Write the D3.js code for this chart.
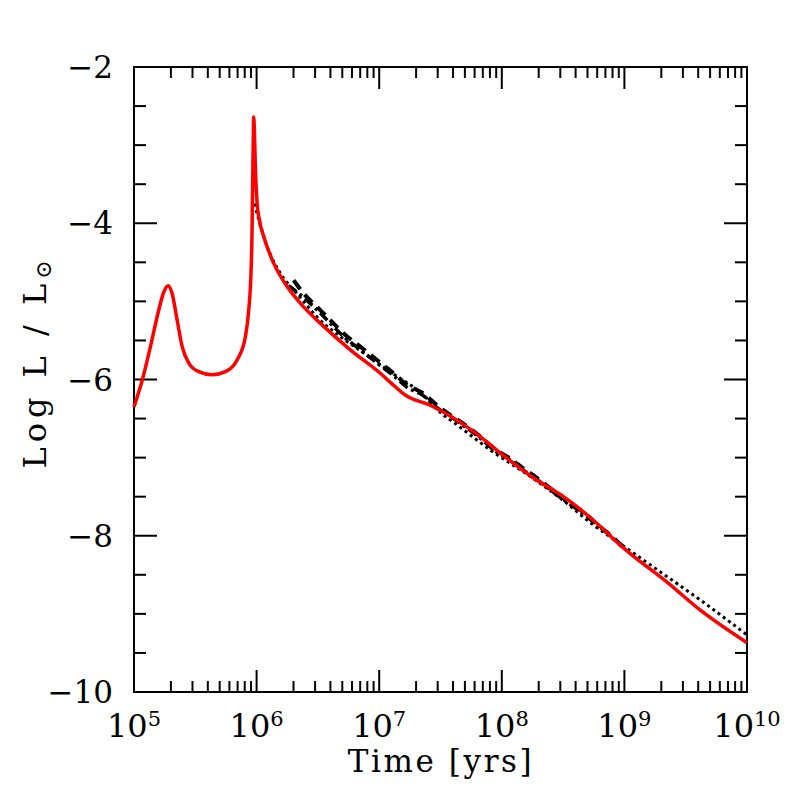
<!DOCTYPE html>
<html>
<head>
<meta charset="utf-8">
<script src="https://cdn.jsdelivr.net/npm/d3@7"></script>
<style>
  body { margin: 0; background: #fff; }
  text { font-family: "DejaVu Serif", serif; fill: #000; }
</style>
</head>
<body>
<div class="chart"></div>
<script>
// log10(time / yrs) and log10(L / Lsun)
var redT = [5.000, 5.067, 5.134, 5.202, 5.243, 5.279, 5.311, 5.352, 5.393, 5.447, 5.528, 5.637, 5.746, 5.841, 5.909, 5.936, 5.955, 5.963, 5.968, 5.974, 5.976, 5.982, 5.990, 6.004, 6.023, 6.058, 6.139, 6.249, 6.384, 6.547, 6.764, 7.009, 7.100, 7.213, 7.416, 7.634, 7.824, 7.987, 8.258, 8.503, 8.775, 8.965, 9.073, 9.345, 9.617, 10.0];
var redL = [-6.35, -6.01, -5.58, -5.11, -4.88, -4.80, -4.90, -5.24, -5.58, -5.79, -5.90, -5.94, -5.90, -5.75, -5.45, -5.11, -4.60, -4.09, -3.45, -2.81, -2.64, -2.81, -3.28, -3.74, -3.96, -4.17, -4.51, -4.81, -5.07, -5.32, -5.62, -5.92, -6.05, -6.20, -6.33, -6.52, -6.73, -6.94, -7.26, -7.50, -7.84, -8.12, -8.26, -8.59, -8.95, -9.37];

var dotT = [5.982, 6.086, 6.194, 6.330, 6.493, 6.683, 6.873, 7.107, 7.362, 7.498, 7.634, 7.905, 8.286, 8.503, 8.720, 8.992, 9.345, 9.617, 10.0];
var dotL = [-3.75, -4.30, -4.64, -4.90, -5.20, -5.45, -5.66, -5.92, -6.20, -6.42, -6.58, -6.90, -7.30, -7.55, -7.83, -8.13, -8.52, -8.82, -9.27];

var dashT = [6.302, 6.384, 6.493, 6.601, 6.710, 6.846, 6.982, 7.117, 7.227, 7.362, 7.471, 7.606, 7.716, 7.824, 7.932, 8.068, 8.177, 8.305, 8.427, 8.549, 8.667, 8.773, 8.900, 8.981];
var dashL = [-4.73, -4.90, -5.07, -5.24, -5.41, -5.58, -5.75, -5.92, -6.07, -6.18, -6.33, -6.48, -6.60, -6.73, -6.88, -7.01, -7.14, -7.28, -7.43, -7.57, -7.70, -7.85, -8.01, -8.13];

var dashDotT = [6.260, 6.384, 6.493, 6.601, 6.710, 6.846, 6.982, 7.117, 7.227, 7.362, 7.471, 7.606, 7.716, 7.824, 7.932, 8.068, 8.177, 8.305, 8.427, 8.549, 8.667, 8.773, 8.900, 8.981];
var dashDotL = [-4.80, -4.95, -5.11, -5.28, -5.45, -5.62, -5.79, -5.95, -6.10, -6.21, -6.36, -6.50, -6.62, -6.75, -6.90, -7.03, -7.16, -7.30, -7.45, -7.59, -7.72, -7.86, -8.02, -8.14];

var xTickExp = [5, 6, 7, 8, 9, 10];
var yTicks = [-2, -4, -6, -8, -10];

var svgWidth = 789, svgHeight = 789;
var margin = { top: 67, right: 42, bottom: 97, left: 134 };
var width = svgWidth - margin.left - margin.right;
var height = svgHeight - margin.top - margin.bottom;

var svg = d3.select(".chart").append("svg")
  .attr("width", svgWidth)
  .attr("height", svgHeight);

var g = svg.append("g")
  .attr("transform", `translate(${margin.left}, ${margin.top})`);

var x = d3.scaleLog().domain([1e5, 1e10]).range([0, width]);
var y = d3.scaleLinear().domain([-10, -2]).range([height, 0]);

// ticks on all four sides, pointing inward
var minorX = [];
for (var e = 5; e < 10; e++) {
  for (var m = 2; m <= 9; m++) minorX.push(m * Math.pow(10, e));
}
var majorX = xTickExp.map(d => Math.pow(10, d));
var minorY = d3.range(-10, -1.99, 0.5).filter(v => yTicks.indexOf(v) < 0);

function tickLines(vals, len, horiz) {
  vals.forEach(function (v) {
    if (horiz) {
      var px = x(v);
      g.append("line").attr("x1", px).attr("x2", px).attr("y1", height).attr("y2", height - len);
      g.append("line").attr("x1", px).attr("x2", px).attr("y1", 0).attr("y2", len);
    } else {
      var py = y(v);
      g.append("line").attr("y1", py).attr("y2", py).attr("x1", 0).attr("x2", len);
      g.append("line").attr("y1", py).attr("y2", py).attr("x1", width).attr("x2", width - len);
    }
  });
}
tickLines(minorX, 11, true);
tickLines(majorX, 22, true);
tickLines(minorY, 12, false);
tickLines(yTicks, 23, false);
g.selectAll("line").attr("stroke", "#000").attr("stroke-width", 2);

g.append("rect")
  .attr("width", width).attr("height", height)
  .attr("fill", "none").attr("stroke", "#000").attr("stroke-width", 2);

// tick labels
xTickExp.forEach(function (d) {
  var t = g.append("text")
    .attr("x", x(Math.pow(10, d)))
    .attr("y", height + 45)
    .attr("text-anchor", "middle")
    .attr("font-size", "32px");
  t.append("tspan").text("10");
  t.append("tspan").attr("font-size", "21px").attr("dy", "-11").text(d);
});

yTicks.forEach(function (d) {
  g.append("text")
    .attr("x", -21)
    .attr("y", y(d))
    .attr("dy", "0.36em")
    .attr("text-anchor", "end")
    .attr("font-size", "31px")
    .text("\u2212" + Math.abs(d));
});

// axis titles
g.append("text")
  .attr("x", 441 - margin.left)
  .attr("y", height + 80)
  .attr("text-anchor", "middle")
  .attr("font-size", "31px")
  .attr("letter-spacing", "2.6px")
  .text("Time [yrs]");

var yl = svg.append("text")
  .attr("transform", "translate(46, 362) rotate(-90)")
  .attr("text-anchor", "middle")
  .attr("font-size", "32px")
  .attr("letter-spacing", "5px");
yl.append("tspan").text("Log L / L");
yl.append("tspan").attr("font-size", "22px").attr("dy", "5").text("\u2299");

// curves
var line = d3.line()
  .x(d => x(Math.pow(10, d[0])))
  .y(d => y(d[1]))
  .curve(d3.curveMonotoneX);

function series(T, L) { return T.map((t, i) => [t, L[i]]); }

g.append("path")
  .datum(series(dotT, dotL))
  .attr("d", line)
  .attr("fill", "none").attr("stroke", "#000")
  .attr("stroke-width", 3).attr("stroke-dasharray", "3,3.5");

g.append("path")
  .datum(series(dashDotT, dashDotL))
  .attr("d", line)
  .attr("fill", "none").attr("stroke", "#000")
  .attr("stroke-width", 3.5).attr("stroke-dasharray", "10,4,3,4");

g.append("path")
  .datum(series(dashT, dashL))
  .attr("d", line)
  .attr("fill", "none").attr("stroke", "#000")
  .attr("stroke-width", 4).attr("stroke-dasharray", "11,7");

g.append("path")
  .datum(series(redT, redL))
  .attr("d", line)
  .attr("fill", "none").attr("stroke", "#ff0000")
  .attr("stroke-width", 3.5)
  .attr("stroke-linejoin", "round");
</script>
</body>
</html>
